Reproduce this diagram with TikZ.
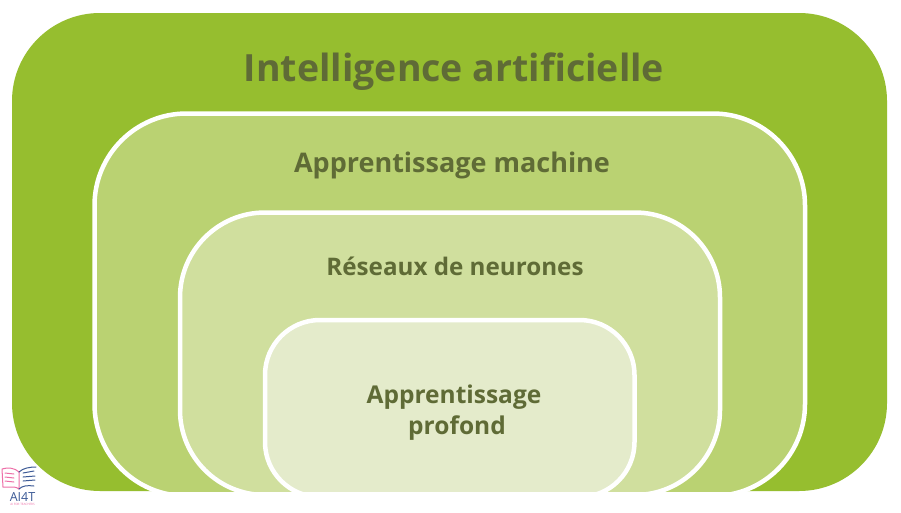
\documentclass[tikz,border=0pt]{standalone}
\usepackage{fontspec}
\setmainfont{Open Sans}
\definecolor{aigreen}{HTML}{96BE2F}
\definecolor{mlgreen}{HTML}{BAD272}
\definecolor{nngreen}{HTML}{D0DF9E}
\definecolor{dlgreen}{HTML}{E4EBCB}
\definecolor{labelgreen}{HTML}{5F6B36}
\definecolor{logopink}{HTML}{EE6FA8}
\definecolor{logoblue}{HTML}{3C5A96}
\tikzset{
  level/.style={line width=4.5pt,draw=white,line join=round},
  title/.style={text=labelgreen,align=center,inner sep=0pt},
  logoline/.style={line width=1pt,line cap=round}
}
\begin{document}
\begin{tikzpicture}[x=1pt,y=-1pt]
  \useasboundingbox (0,0) rectangle (901,512);
  \fill[white] (0,0) rectangle (901,512);
  \fill[aigreen,rounded corners=88pt] (12,13) rectangle (887,491);
  \begin{scope}
    \clip (0,0) rectangle (901,491);
    \draw[level,fill=mlgreen,rounded corners=92pt] (94.5,113.5) rectangle (805,496);
    \draw[level,fill=nngreen,rounded corners=85pt] (180,212.5) rectangle (720,495);
    \draw[level,fill=dlgreen,rounded corners=55pt] (265,320) rectangle (634.5,497);
  \end{scope}
  \node[title,font=\bfseries\fontsize{37.5}{42}\selectfont] (ai) at (454,72) {Intelligence artificielle};
  \node[title,font=\bfseries\fontsize{27}{32}\selectfont] (ml) at (452,165) {Apprentissage machine};
  \node[title,font=\bfseries\fontsize{24.2}{29}\selectfont] (nn) at (455,266) {Réseaux de neurones};
  \node[title,font=\bfseries\fontsize{24.5}{31}\selectfont] (dl) at (454,413) {Apprentissage\\\hspace*{6pt}profond};
  % logo
  \draw[logoline,logopink] (2,469) -- (3,487) -- (12,487) .. controls (16,487) and (18,488) .. (19,489)
    (2,469) .. controls (8,467) and (15,468) .. (19,472) -- (19,489)
    (5,473) -- (14,474) (5,477) -- (14,478) (5,481) -- (14,482);
  \draw[logoline,logoblue] (19,472) .. controls (23,468) and (30,467) .. (36,467)
    (19,489) .. controls (22,486) and (27,485) .. (34,486)
    (23,473) -- (34,471) (23,477) -- (35,476) (23,481) -- (35,480);
  \node[inner sep=0pt,text=logoblue,font=\fontsize{12.5}{14}\selectfont] (logo) at (22.5,497) {AI4T};
  \node[inner sep=0pt,text=logopink,font=\fontsize{3}{4}\selectfont] (tag) at (22.5,504.5) {AI FOR TEACHERS};
\end{tikzpicture}
\end{document}
